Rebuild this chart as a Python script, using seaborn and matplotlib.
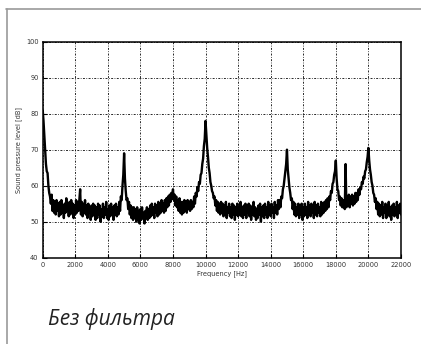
import numpy as np
import pandas as pd
import seaborn as sns
import matplotlib
matplotlib.use("Agg")
import matplotlib.pyplot as plt
from matplotlib.lines import Line2D

freq_step = 50
level_db = [
    81, 78, 74, 70, 66, 64, 63.5, 60, 58, 57, 55, 57.5, 53, 56, 52.5, 55.5, 52, 56, 53, 55, 51.5,
    55.5, 52, 56, 52.5, 54.5, 51, 55, 52.5, 56.5, 53, 55, 51.5, 55.5, 52, 56, 53.5, 55, 51, 54.5, 52,
    56, 52.5, 55.5, 53, 56, 59, 52, 55.5, 51.5, 55, 52.5, 56, 52, 54.5, 51, 55, 52.5, 54, 50.5, 54.5,
    51.5, 55, 52, 54.5, 50.5, 54, 51, 55, 52, 54.5, 50, 53.5, 51.5, 55, 51, 54, 52, 55.5, 51, 53.5,
    50.5, 54.5, 51.5, 55, 52, 54, 50.5, 54.5, 52, 55, 51.5, 54, 52, 55.5, 53, 57, 56, 60, 63, 69,
    62, 58.5, 56, 56.5, 53.5, 55.5, 52, 54.5, 51, 54, 50.5, 54, 51, 53.5, 50, 54, 51.5, 53, 49.5, 53.5,
    50.5, 54, 51, 52.5, 49.5, 53, 51, 54, 50.5, 53.5, 51, 54.5, 51.5, 55, 52, 54, 51, 55, 52.5, 54.5,
    51.5, 55.5, 52, 54, 52.5, 56, 53, 55, 52.5, 56, 53, 56.5, 54, 57, 54.5, 57.5, 55.5, 58, 56.5, 59,
    56, 57.5, 54.5, 57, 54, 56, 53, 56.5, 52.5, 55.5, 52, 55.5, 52.5, 56, 53, 55, 52.5, 56, 53.5, 55.5,
    53, 56, 53.5, 55.5, 54, 57, 55, 58, 57, 59.5, 58.5, 61, 60.5, 63, 63.5, 66, 67.5, 71, 73, 78,
    74, 70.5, 68, 65, 63.5, 61, 60, 58.5, 58, 56.5, 57, 54.5, 56, 53, 55.5, 52.5, 55, 52, 55.5, 52.5,
    55, 51.5, 54.5, 52, 55.5, 51, 54, 52.5, 55, 51.5, 54, 51, 55, 52, 54.5, 50.5, 54, 52, 55, 51.5,
    54, 52, 55.5, 51.5, 54, 51, 54.5, 52, 55, 51, 54, 52.5, 55, 51.5, 54.5, 50.5, 54, 52, 55.5, 51.5,
    54, 50.5, 53.5, 51, 54.5, 52, 55, 50, 54, 51.5, 54.5, 51, 55, 52, 54, 51, 55.5, 52, 54.5, 51.5,
    55, 52.5, 54, 51, 55.5, 52.5, 54.5, 52, 56, 53.5, 56, 54, 57, 56.5, 59, 60, 62, 64, 66, 70,
    64.5, 62, 59.5, 58, 56, 56.5, 53.5, 55.5, 52, 55, 51.5, 54, 52, 55, 51, 54.5, 52, 55, 50.5, 54,
    51.5, 55, 52, 54, 51, 55.5, 52, 54.5, 51.5, 55, 52.5, 54, 51, 55.5, 52, 54.5, 51.5, 55, 52.5, 54,
    51.5, 55.5, 52, 55, 52.5, 55.5, 53, 56, 53.5, 56.5, 54, 57, 56, 58.5, 58, 60.5, 61, 63, 64, 67,
    62, 59, 58.5, 56, 57, 54.5, 56.5, 54, 56, 55, 53.5, 66, 54, 57, 54.5, 57.5, 54, 57, 55, 57.5,
    54.5, 57, 55, 58, 55.5, 58, 56, 59, 57.5, 59.5, 59, 61, 60.5, 62.5, 62, 64, 64.5, 66.5, 68, 70.5,
    67, 64.5, 63, 61, 60, 58, 57.5, 55.5, 56.5, 53.5, 55.5, 52, 55, 51.5, 54.5, 52, 55.5, 51, 54, 52.5,
    55, 51, 54.5, 52, 55.5, 51.5, 54, 50.5, 54.5, 52, 55, 51.5, 54, 52, 55.5, 51, 54.5, 52.5, 55, 52,
]
x_ticks = [0, 2000, 4000, 6000, 8000, 10000, 12000, 14000, 16000, 18000, 20000, 22000]
y_ticks = [40, 50, 60, 70, 80, 90, 100]
x_label = "Frequency [Hz]"
y_label = "Sound pressure level [dB]"
caption = "Без фильтра"

freq_hz = np.arange(len(level_db)) * freq_step
df = pd.DataFrame({"freq": freq_hz, "level": level_db})

sns.set_theme(style="white")
plt.rcParams["font.family"] = ["DejaVu Sans"]

fig = plt.figure(figsize=(4.21, 3.44), dpi=100)
fig.patch.set_facecolor("white")
ax = fig.add_axes([0.1014, 0.2509, 0.851, 0.628])

ax.grid(True, color="black", linestyle=(0, (2, 1.5, 0.8, 1.5)), linewidth=0.7, alpha=0.85)
ax.set_axisbelow(True)

sns.lineplot(data=df, x="freq", y="level", ax=ax, color="black",
             linewidth=1.7, estimator=None)

ax.set_xlim(0, 22000)
ax.set_ylim(40, 100)
ax.set_xticks(x_ticks)
ax.set_yticks(y_ticks)
ax.set_xticklabels([str(t) for t in x_ticks])
ax.set_yticklabels([str(t) for t in y_ticks])
ax.tick_params(axis="both", direction="in", length=3, width=0.8,
               labelsize=4.8, labelcolor="#333333", color="black", pad=3,
               bottom=True, left=True)
for s in ax.spines.values():
    s.set_color("black")
    s.set_linewidth(1.1)
ax.set_xlabel(x_label, fontsize=4.8, color="#333333", labelpad=2)
ax.set_ylabel(y_label, fontsize=4.8, color="#333333", labelpad=3)

# card border (left and top)
fig.add_artist(Line2D([6.5 / 421, 6.5 / 421], [0, 1 - 9 / 344],
                      transform=fig.transFigure, color="#9a9a9a", linewidth=1.2))
fig.add_artist(Line2D([6 / 421, 1], [1 - 9 / 344, 1 - 9 / 344],
                      transform=fig.transFigure, color="#9a9a9a", linewidth=1.2))

fig.text(48 / 421, 1 - 325 / 344, caption, fontsize=15, style="italic",
         family=["Open Sans", "DejaVu Sans"], color="#222222",
         ha="left", va="baseline")

fig.savefig("out.png", dpi=100, facecolor="white")
